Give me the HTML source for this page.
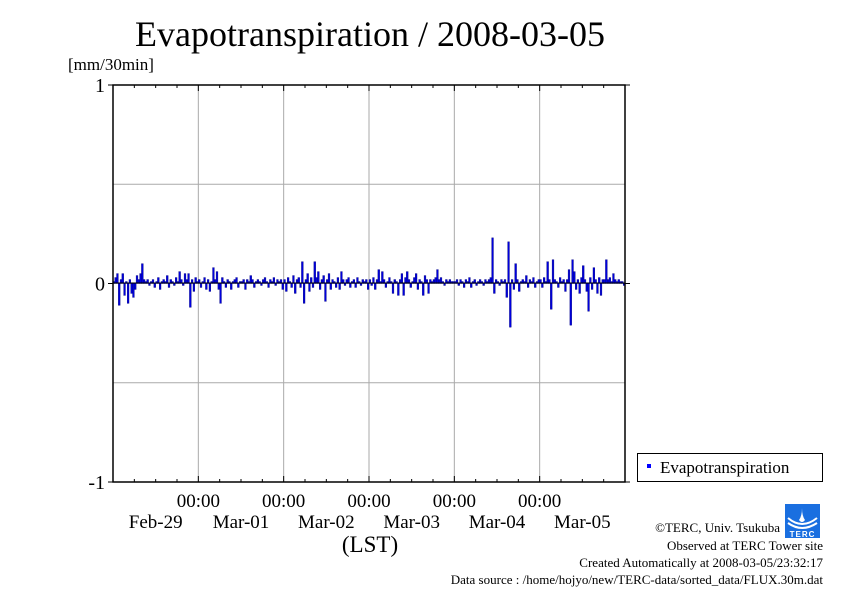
<!DOCTYPE html>
<html><head><meta charset="utf-8"><style>
body{margin:0;background:#fff;}
svg text{font-family:"Liberation Serif",serif;fill:#000;}
</style></head><body>
<svg id="c" width="842" height="595" viewBox="0 0 842 595" xmlns="http://www.w3.org/2000/svg">
<text x="370" y="46" font-size="36" text-anchor="middle">Evapotranspiration / 2008-03-05</text>
<text x="68" y="70" font-size="17">[mm/30min]</text>
<g id="grid"></g>
<g id="bars"></g>
<line x1="113" y1="283" x2="625" y2="283" stroke="#000" stroke-width="1"/>
<rect x="113" y="85" width="512" height="397" fill="none" stroke="#000" stroke-width="1.5"/>
<g id="axes"></g>
<text x="370" y="552" font-size="23" text-anchor="middle">(LST)</text>
<g>
<rect x="637.5" y="453.5" width="185" height="28" fill="#fff" stroke="#000" stroke-width="1"/>
<rect x="647" y="464" width="4" height="4" fill="#0000ff"/>
<text x="660" y="473" font-size="17">Evapotranspiration</text>
</g>
<g>
<rect x="785" y="504" width="35" height="34" fill="#1a6fe0"/>
<path d="M788 518 q14 12 29 0 M788 523 q14 10 29 0" stroke="#fff" stroke-width="2" fill="none"/>
<path d="M802 508 q0 8 -3 12 q3 4 6 0 q-3 -4 -3 -12z" fill="#fff"/>
<text x="802.5" y="537" font-size="8" text-anchor="middle" style="fill:#fff;font-family:'Liberation Sans',sans-serif;font-weight:bold" letter-spacing="1">TERC</text>
</g>
<g font-size="13" text-anchor="end">
<text x="780" y="532">©TERC, Univ. Tsukuba</text>
<text x="823" y="550">Observed at TERC Tower site</text>
<text x="823" y="567">Created Automatically at 2008-03-05/23:32:17</text>
<text x="823" y="584">Data source : /home/hojyo/new/TERC-data/sorted_data/FLUX.30m.dat</text>
</g>
</svg>
<script>
const days=["Feb-29","Mar-01","Mar-02","Mar-03","Mar-04","Mar-05"];
const yTicks=[-1,0,1];
const yTickLabels=["-1","0","1"];
const etValues=[
0.01,0.03,0.05,-0.11,0.02,0.05,-0.06,0.01,-0.10,0.02,-0.05,-0.07,-0.03,0.04,0.02,0.05,0.10,0.02,0.01,0.02,-0.01,0.01,0.02,-0.02,0.01,0.03,-0.03,0.01,0.02,0.01,0.04,-0.02,0.02,0.01,-0.01,0.03,0.01,0.06,0.02,-0.01,0.05,0.02,0.05,-0.12,0.02,-0.04,0.03,0.01,
0.02,-0.02,0.01,0.03,-0.03,0.02,-0.04,0.01,0.08,0.02,0.06,-0.03,-0.10,0.03,0.01,-0.02,0.02,0.01,-0.03,0.01,0.02,0.03,-0.02,0.01,0.01,0.02,-0.03,0.02,0.01,0.04,0.02,-0.02,0.01,0.02,0.01,-0.01,0.02,0.03,0.01,-0.02,0.02,0.01,0.03,-0.01,0.02,0.01,0.02,-0.03,
0.02,-0.04,0.03,0.01,-0.02,0.04,-0.05,0.02,0.03,-0.02,0.11,-0.10,0.02,0.05,-0.04,0.03,-0.02,0.11,0.03,0.06,-0.03,0.02,0.04,-0.09,0.02,0.05,-0.03,0.02,0.01,-0.02,0.03,-0.03,0.06,0.02,-0.01,0.02,0.03,-0.02,0.01,0.02,-0.02,0.03,0.01,-0.01,0.02,0.01,0.02,-0.03,
0.02,-0.01,0.03,-0.03,0.02,0.07,0.01,0.06,0.02,-0.02,0.01,0.03,0.01,-0.05,0.02,0.01,-0.06,0.02,0.05,-0.06,0.03,0.06,0.02,-0.02,0.01,0.03,0.05,-0.03,0.02,0.01,-0.06,0.04,0.02,-0.05,0.02,0.01,0.02,0.03,0.07,0.02,0.03,0.01,-0.01,0.02,0.01,0.02,0.01,0.01,
0.01,0.02,-0.01,0.02,0.01,-0.02,0.02,0.01,0.03,-0.02,0.01,0.02,-0.01,0.01,0.02,0.01,-0.01,0.02,0.01,0.02,0.03,0.23,-0.05,0.02,0.01,-0.01,0.02,0.01,0.02,-0.07,0.21,-0.22,0.02,-0.03,0.10,0.02,-0.04,0.01,0.02,0.01,0.04,-0.02,0.02,0.01,0.03,-0.02,0.01,0.02,
0.02,-0.02,0.03,0.01,0.11,0.02,-0.13,0.12,0.02,0.01,-0.02,0.03,0.01,0.02,-0.04,0.02,0.07,-0.21,0.12,0.06,-0.03,0.02,-0.05,0.03,0.09,0.02,-0.04,-0.14,0.03,-0.03,0.08,0.02,-0.05,0.03,-0.06,0.02,0.02,0.12,0.02,0.03,0.01,0.05,0.02,0.01,0.02,0.01,0.01,-0.01
];
const NS="http://www.w3.org/2000/svg";
const X0=113,X1=625,Y0=85,Y1=482;
const nPts=days.length*48;
function xs(i){return X0+(X1-X0)*i/nPts;}
function ys(v){return Y1-(v+1)/2*(Y1-Y0);}
function mk(tag,at,parent){const e=document.createElementNS(NS,tag);for(const k in at)e.setAttribute(k,at[k]);parent.appendChild(e);return e;}
const grid=document.getElementById('grid'),bars=document.getElementById('bars'),axes=document.getElementById('axes');
[-0.5,0.5].forEach(v=>{const l=mk('line',{x1:X0,x2:X1,y1:ys(v),y2:ys(v),stroke:'#aaa','stroke-width':1},grid);

});
for(let d=1;d<days.length;d++){const x=xs(d*48);
const l=mk('line',{x1:x,x2:x,y1:Y0,y2:Y1,stroke:'#aaa','stroke-width':1},grid);


const t=mk('text',{x:x,y:507,'font-size':19,'text-anchor':'middle'},axes);t.textContent='00:00';

}
for(let d=0;d<days.length;d++){
const t=mk('text',{x:xs(d*48+24),y:528,'font-size':19,'text-anchor':'middle'},axes);t.textContent=days[d];


for(let h=0;h<4;h++){const x=xs(d*48+h*12);const len=h==0?6:3;
mk('line',{x1:x,x2:x,y1:Y0,y2:Y0+len,stroke:'#000'},axes);
mk('line',{x1:x,x2:x,y1:Y1,y2:Y1-len,stroke:'#000'},axes);}}
yTicks.forEach((v,i)=>{const y=ys(v);
mk('line',{x1:X0-5,x2:X0,y1:y,y2:y,stroke:'#000'},axes);
mk('line',{x1:X1,x2:X1+5,y1:y,y2:y,stroke:'#000'},axes);
const t=mk('text',{x:X0-8,y:y+7,'font-size':20,'text-anchor':'end'},axes);t.textContent=yTickLabels[i];

});
const w=(X1-X0)/nPts;
etValues.forEach((v,i)=>{const y0=ys(0),y=ys(v);
const r=mk('rect',{x:xs(i),y:Math.min(y,y0),width:w,height:Math.max(Math.abs(y-y0),1),fill:'#0000dd',stroke:'#000080','stroke-width':0.4},bars);

});
</script>
</body></html>
